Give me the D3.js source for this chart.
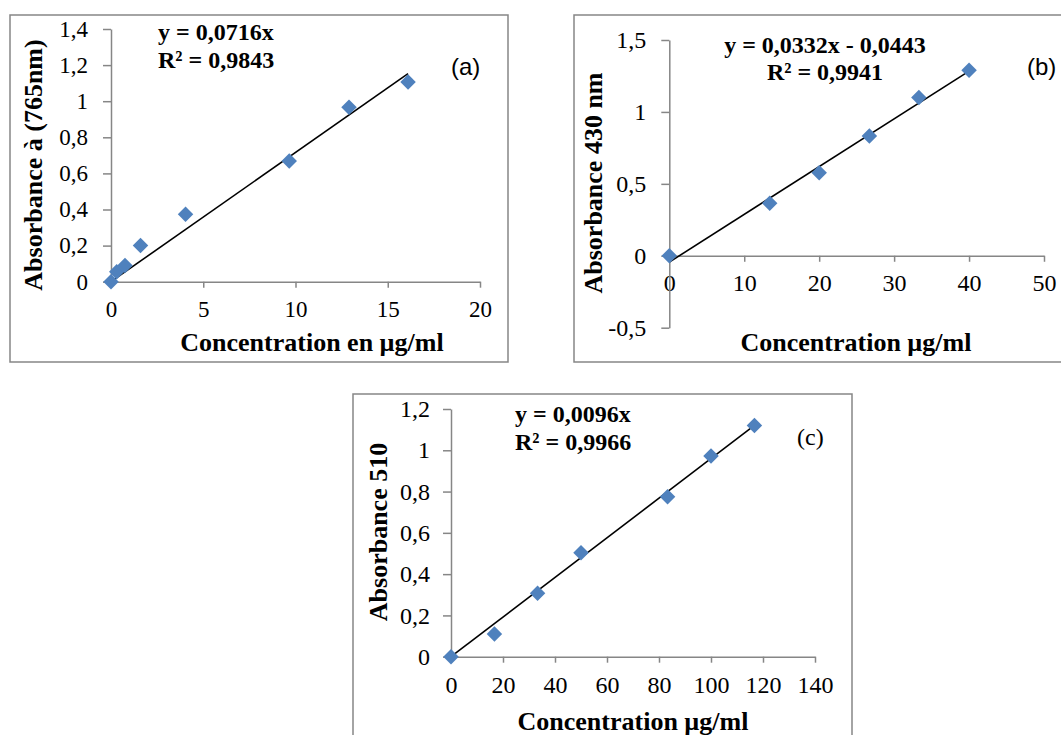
<!DOCTYPE html>
<html>
<head>
<meta charset="utf-8">
<script src="https://cdn.jsdelivr.net/npm/d3@7"></script>
<style>
html,body{margin:0;padding:0;background:#fff;}
svg{display:block;}
text{font-family:"Liberation Serif","Times New Roman",serif;}
</style>
</head>
<body>
<svg id="chart" width="1061" height="735"></svg>
<script>
// ---------- data ----------
const aConc = [0, 0.31, 0.76, 1.6, 4.04, 9.66, 12.9, 16.1];
const aAbs  = [0, 0.055, 0.09, 0.2, 0.374, 0.669, 0.966, 1.107];
const aXTicks = [0, 5, 10, 15, 20];
const aYTicks = [0, 0.2, 0.4, 0.6, 0.8, 1, 1.2, 1.4];
const aFit = [0.0716, 0];
const aEq = ["y = 0,0716x", "R² = 0,9843"];

const bConc = [0, 13.4, 20, 26.7, 33.3, 40];
const bAbs  = [0, 0.365, 0.578, 0.832, 1.1, 1.29];
const bXTicks = [0, 10, 20, 30, 40, 50];
const bYTicks = [-0.5, 0, 0.5, 1, 1.5];
const bFit = [0.0332, -0.0443];
const bEq = ["y = 0,0332x - 0,0443", "R² = 0,9941"];

const cConc = [0, 16.7, 33.3, 50, 83.3, 100, 116.7];
const cAbs  = [0, 0.11, 0.307, 0.504, 0.775, 0.972, 1.12];
const cXTicks = [0, 20, 40, 60, 80, 100, 120, 140];
const cYTicks = [0, 0.2, 0.4, 0.6, 0.8, 1, 1.2];
const cFit = [0.0096, 0];
const cEq = ["y = 0,0096x", "R² = 0,9966"];

// ---------- helpers ----------
const svg = d3.select("#chart");
const AXIS = "#868686";
const BLUE = "#4F81BD";
const fmt = v => (Math.round(v*10)/10).toString().replace(".", ",");

function panel(cfg) {
  const g = svg.append("g");
  // frame
  g.append("rect").attr("x", cfg.frame[0]).attr("y", cfg.frame[1])
    .attr("width", cfg.frame[2]).attr("height", cfg.frame[3])
    .attr("fill", "#fff").attr("stroke", AXIS).attr("stroke-width", 1.5);

  const x = d3.scaleLinear().domain(cfg.xDomain).range(cfg.xRange);
  const y = d3.scaleLinear().domain(cfg.yDomain).range(cfg.yRange);

  // x axis (at y = 0)
  const xa = g.append("g").attr("transform", `translate(0,${y(0)})`)
    .call(d3.axisBottom(x).tickValues(cfg.xTicks).tickFormat(fmt)
      .tickSize(6).tickSizeOuter(0).tickPadding(cfg.xPad));
  // y axis (at x = 0)
  const ya = g.append("g").attr("transform", `translate(${x(0)},0)`)
    .call(d3.axisLeft(y).tickValues(cfg.yTicks).tickFormat(fmt)
      .tickSize(8).tickSizeOuter(0).tickPadding(cfg.yPad));
  [xa, ya].forEach(a => {
    a.attr("font-size", null).attr("font-family", null);
    a.select(".domain").attr("stroke", AXIS).attr("stroke-width", 1.5);
    a.selectAll(".tick line").attr("stroke", AXIS).attr("stroke-width", 1.5);
    a.selectAll(".tick text").attr("fill", "#000")
      .style("font-family", '"Liberation Serif","Times New Roman",serif')
      .style("font-size", cfg.tickSize);
  });

  // trend line
  const xs = d3.extent(cfg.xs);
  g.append("line")
    .attr("x1", x(xs[0])).attr("y1", y(cfg.fit[0]*xs[0] + cfg.fit[1]))
    .attr("x2", x(xs[1])).attr("y2", y(cfg.fit[0]*xs[1] + cfg.fit[1]))
    .attr("stroke", "#000").attr("stroke-width", 1.6);

  // markers (diamonds)
  const sym = d3.symbol().type(d3.symbolSquare).size(120);
  g.selectAll("path.pt").data(cfg.xs.map((v, i) => [v, cfg.ys[i]])).join("path")
    .attr("class", "pt")
    .attr("d", sym)
    .attr("transform", d => `translate(${x(d[0])},${y(d[1])}) rotate(45)`)
    .attr("fill", BLUE);

  // equation
  const eq = g.append("text").attr("font-weight", "bold").style("font-size", "24px")
    .attr("text-anchor", cfg.eqAnchor);
  cfg.eq.forEach((t, i) => eq.append("tspan").attr("x", cfg.eqPos[0])
    .attr("y", cfg.eqPos[1] + i*cfg.eqGap).text(t));

  // panel letter
  g.append("text").attr("x", cfg.letterPos[0]).attr("y", cfg.letterPos[1])
    .style("font-family", cfg.letterFont).style("font-size", cfg.letterSize)
    .text(cfg.letter);

  // axis titles
  g.append("text").attr("x", cfg.xTitlePos[0]).attr("y", cfg.xTitlePos[1])
    .attr("text-anchor", "middle").attr("font-weight", "bold").style("font-size", "26px")
    .text(cfg.xTitle);
  g.append("text")
    .attr("transform", `translate(${cfg.yTitlePos[0]},${cfg.yTitlePos[1]}) rotate(-90)`)
    .attr("text-anchor", "middle").attr("font-weight", "bold").style("font-size", "26px")
    .text(cfg.yTitle);
}

panel({
  frame: [10, 15, 498, 347],
  xDomain: [0, 20], xRange: [111, 480],
  yDomain: [0, 1.4], yRange: [281.7, 29],
  xTicks: aXTicks, yTicks: aYTicks, xPad: 13, yPad: 15, tickSize: "23px",
  xs: aConc, ys: aAbs, fit: aFit,
  eq: aEq, eqPos: [158, 40], eqGap: 28, eqAnchor: "start",
  letter: "(a)", letterPos: [451, 75], letterFont: '"Liberation Sans",Arial,sans-serif', letterSize: "24px",
  xTitle: "Concentration en µg/ml", xTitlePos: [312, 351],
  yTitle: "Absorbance à (765nm)", yTitlePos: [42, 165]
});

panel({
  frame: [574, 15, 500, 347],
  xDomain: [0, 50], xRange: [669.3, 1044],
  yDomain: [-0.5, 1.5], yRange: [327.7, 40],
  xTicks: bXTicks, yTicks: bYTicks, xPad: 12, yPad: 15, tickSize: "24px",
  xs: bConc, ys: bAbs, fit: bFit,
  eq: bEq, eqPos: [825, 53], eqGap: 27, eqAnchor: "middle",
  letter: "(b)", letterPos: [1027, 75], letterFont: '"Liberation Sans",Arial,sans-serif', letterSize: "24px",
  xTitle: "Concentration µg/ml", xTitlePos: [856, 351],
  yTitle: "Absorbance 430 nm", yTitlePos: [602, 183]
});

panel({
  frame: [353, 394, 499, 360],
  xDomain: [0, 140], xRange: [451, 815],
  yDomain: [0, 1.2], yRange: [656.7, 409],
  xTicks: cXTicks, yTicks: cYTicks, xPad: 13, yPad: 13, tickSize: "24px",
  xs: cConc, ys: cAbs, fit: cFit,
  eq: cEq, eqPos: [515, 422], eqGap: 28, eqAnchor: "start",
  letter: "(c)", letterPos: [797, 445], letterFont: '"Liberation Serif","Times New Roman",serif', letterSize: "24px",
  xTitle: "Concentration µg/ml", xTitlePos: [633, 730],
  yTitle: "Absorbance 510", yTitlePos: [387, 532]
});
</script>
</body>
</html>
